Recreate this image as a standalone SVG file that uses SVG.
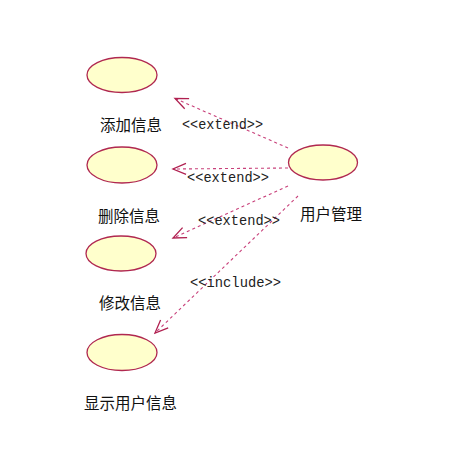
<svg xmlns="http://www.w3.org/2000/svg" width="453" height="455" viewBox="0 0 453 455">
<defs>
<style>
.uc{fill:#ffffcc;stroke:#b02850;stroke-width:1.3}
.lbl{font-family:"Noto Sans CJK SC","Noto Sans CJK JP",sans-serif;font-size:15.5px;fill:#111}
.st{font-family:"Liberation Mono","DejaVu Sans Mono",monospace;font-size:14.5px;fill:#222}
.dep{fill:none;stroke:#c8407a;stroke-width:1.1;stroke-dasharray:3 3}
</style>
<marker id="open" viewBox="-15 -7 17 14" refX="0" refY="0" markerWidth="17" markerHeight="14" markerUnits="userSpaceOnUse" orient="auto">
<path d="M-13,-5.5 L0,0 L-13,5.5" fill="none" stroke="#b02050" stroke-width="1.3"/>
</marker>
</defs>
<rect width="453" height="455" fill="#ffffff"/>
<g id="connectors">
<line class="dep" x1="288" y1="148" x2="175" y2="98.5" marker-end="url(#open)"/>
<line class="dep" x1="288" y1="168" x2="173" y2="169" marker-end="url(#open)"/>
<line class="dep" x1="288" y1="186" x2="173" y2="238" marker-end="url(#open)"/>
<line class="dep" x1="298" y1="196" x2="155" y2="333" marker-end="url(#open)"/>
<text class="st" x="182" y="129" textLength="81" lengthAdjust="spacingAndGlyphs">&lt;&lt;extend&gt;&gt;</text>
<text class="st" x="187" y="182" textLength="82" lengthAdjust="spacingAndGlyphs">&lt;&lt;extend&gt;&gt;</text>
<text class="st" x="198" y="225" textLength="82" lengthAdjust="spacingAndGlyphs">&lt;&lt;extend&gt;&gt;</text>
<text class="st" x="190" y="287" textLength="91" lengthAdjust="spacingAndGlyphs">&lt;&lt;include&gt;&gt;</text>
</g>
<g id="add">
<ellipse class="uc" cx="122" cy="75" rx="35" ry="17.5"/>
<text class="lbl" x="100" y="130.5">添加信息</text>
</g>
<g id="delete">
<ellipse class="uc" cx="122" cy="165" rx="35" ry="18"/>
<text class="lbl" x="98" y="222">删除信息</text>
</g>
<g id="modify">
<ellipse class="uc" cx="121" cy="253.5" rx="35" ry="17.5"/>
<text class="lbl" x="99" y="309">修改信息</text>
</g>
<g id="show">
<ellipse class="uc" cx="122" cy="352.5" rx="35" ry="18"/>
<text class="lbl" x="84" y="409">显示用户信息</text>
</g>
<g id="user">
<ellipse class="uc" cx="323" cy="162.5" rx="34.5" ry="17.5"/>
<text class="lbl" x="300" y="220">用户管理</text>
</g>
</svg>
